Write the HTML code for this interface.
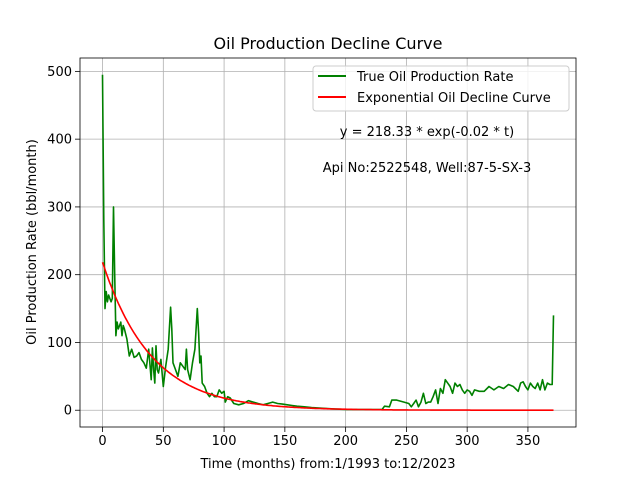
<!DOCTYPE html>
<html><head><meta charset="utf-8"><style>
body{margin:0;background:#fff}
svg{display:block;font-family:"DejaVu Sans","Liberation Sans",sans-serif}
</style></head><body>
<svg id="c" width="640" height="480" viewBox="0 0 640 480"></svg>
<script>
const months=[0,1,2,3,4,5,6,7,8,9,10,11,12,13,14,15,16,17,18,20,22,24,26,28,30,32,34,36,38,40,41,42,43,44,45,46,48,50,52,54,56,57,58,60,62,64,66,68,69,70,72,74,76,78,79,80,81,82,84,86,88,90,92,94,96,98,100,101,103,105,108,112,116,120,124,128,132,136,140,144,148,152,156,160,166,172,180,190,200,210,220,230,232,236,238,242,248,252,254,256,258,260,262,264,266,268,270,272,274,276,278,280,282,284,286,288,290,292,294,296,298,300,302,304,306,310,314,318,322,326,330,334,338,342,344,346,348,350,352,354,356,358,360,362,364,366,368,370,371];
const rates=[495,280,150,175,160,170,165,160,165,300,200,110,130,120,125,130,110,125,120,105,80,90,78,80,85,75,70,62,90,45,92,60,40,95,60,55,75,35,65,90,152,120,70,60,50,70,65,60,90,60,45,70,90,150,115,70,80,40,35,25,20,25,20,20,30,25,28,12,20,18,10,8,10,14,12,10,8,10,12,10,9,8,7,6,5,4,3,2,1,1,1,1,6,5,15,15,12,10,5,10,15,5,12,25,10,12,12,20,30,10,32,25,45,40,35,25,40,35,38,30,25,30,28,22,30,28,28,35,30,35,32,38,35,28,40,42,35,30,40,35,32,40,30,45,30,40,38,38,140];
const fitA=218.33, fitB=0.025;
const xTicks=[0,50,100,150,200,250,300,350];
const yTicks=[0,100,200,300,400,500];
const L=80,R=576,T=58,B=427,xmin=-18.55,xmax=389.55,ymin=-24.75,ymax=519.75;
const X=v=>L+(v-xmin)/(xmax-xmin)*(R-L);
const Y=v=>B-(v-ymin)/(ymax-ymin)*(B-T);
const svg=document.getElementById('c');const NS='http://www.w3.org/2000/svg';
function mk(t,a,p){const e=document.createElementNS(NS,t);for(const k in a)e.setAttribute(k,a[k]);(p||svg).appendChild(e);return e;}
const grid=mk('g',{});


xTicks.forEach(v=>{
 mk('line',{x1:X(v),x2:X(v),y1:T,y2:B,stroke:'#b0b0b0','stroke-width':0.8},grid);
 mk('line',{x1:X(v),x2:X(v),y1:B,y2:B+5,stroke:'#000','stroke-width':0.8});
 const t=mk('text',{x:X(v),y:B+18,'text-anchor':'middle','font-size':13});t.textContent=v;
 
 
});
yTicks.forEach(v=>{
 mk('line',{x1:L,x2:R,y1:Y(v),y2:Y(v),stroke:'#b0b0b0','stroke-width':0.8},grid);
 mk('line',{x1:L-5,x2:L,y1:Y(v),y2:Y(v),stroke:'#000','stroke-width':0.8});
 const t=mk('text',{x:L-8,y:Y(v)+4.5,'text-anchor':'end','font-size':13});t.textContent=v;
 
 
});
let d='';months.forEach((m,i)=>{d+=(i?'L':'M')+X(m).toFixed(1)+','+Y(rates[i]).toFixed(1);});
const g=mk('path',{d:d,fill:'none',stroke:'#008000','stroke-width':1.6,'stroke-linejoin':'round'});


let d2='';for(let t=0;t<=371;t+=1){d2+=(t?'L':'M')+X(t).toFixed(1)+','+Y(fitA*Math.exp(-fitB*t)).toFixed(1);}
const r=mk('path',{d:d2,fill:'none',stroke:'#ff0000','stroke-width':1.6});


mk('rect',{x:L,y:T,width:R-L,height:B-T,fill:'none',stroke:'#000','stroke-width':0.8});
function txt(s,a,name){const t=mk('text',a);t.textContent=s;return t;}
txt('Oil Production Decline Curve',{x:328,y:49,'text-anchor':'middle','font-size':16},'chart-title');
txt('Time (months) from:1/1993 to:12/2023',{x:328,y:468,'text-anchor':'middle','font-size':13},'x-axis-title');
txt('Oil Production Rate (bbl/month)',{x:0,y:0,'text-anchor':'middle','font-size':13,transform:'translate(36,242) rotate(-90)'},'y-axis-title');
const lg=mk('g',{});
mk('rect',{x:313,y:66,width:256,height:45,rx:3,fill:'#fff','fill-opacity':0.8,stroke:'#ccc'},lg);
mk('line',{x1:318,x2:346,y1:76,y2:76,stroke:'#008000','stroke-width':2},lg);
mk('line',{x1:318,x2:346,y1:97,y2:97,stroke:'#ff0000','stroke-width':2},lg);
txt('True Oil Production Rate',{x:357,y:81,'font-size':13},'legend-entry-true');
txt('Exponential Oil Decline Curve',{x:357,y:102,'font-size':13},'legend-entry-fit');
txt('y = 218.33 * exp(-0.02 * t)',{x:427,y:136,'text-anchor':'middle','font-size':13},'equation-annotation');
txt('Api No:2522548, Well:87-5-SX-3',{x:427,y:172,'text-anchor':'middle','font-size':13},'well-annotation');
</script>
</body></html>
